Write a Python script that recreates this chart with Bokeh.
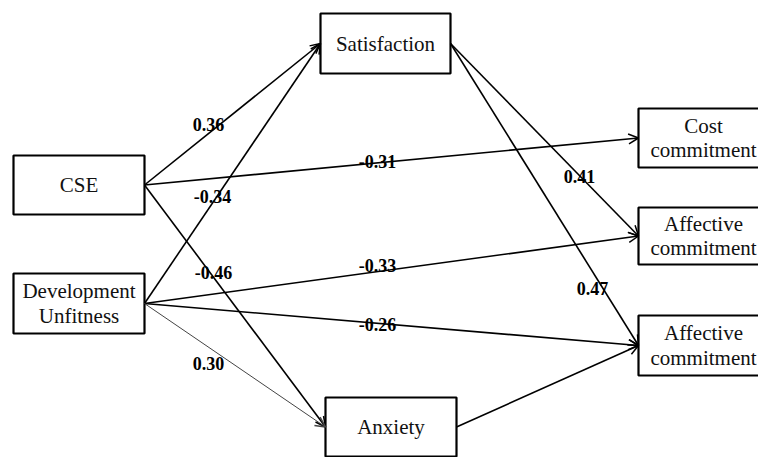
from bokeh.plotting import figure
from bokeh.models import Range1d, Arrow, OpenHead
from bokeh.core.properties import value
from bokeh.embed import file_html
from bokeh.resources import INLINE

# ---- data ----
node_ids = ["CSE", "DU", "SAT", "ANX", "COST", "AFF1", "AFF2"]
node_labels = ["CSE", "Development\nUnfitness", "Satisfaction", "Anxiety",
               "Cost\ncommitment", "Affective\ncommitment", "Affective\ncommitment"]

edge_from = ["CSE", "DU", "CSE", "CSE", "DU", "DU", "DU", "SAT", "SAT", "ANX"]
edge_to = ["SAT", "SAT", "COST", "ANX", "AFF1", "AFF2", "ANX", "AFF1", "AFF2", "AFF2"]
edge_coef = ["0.36", "-0.34", "-0.31", "-0.46", "-0.33", "-0.26", "0.30", "0.41", "0.47", ""]

# ---- layout (pixel-like coordinates, y downward) ----
node_box = {  # cx, cy, w, h
    "CSE": (78.5, 184.5, 131, 59),
    "DU": (78.5, 303, 131, 60),
    "SAT": (385, 43, 130, 60),
    "ANX": (390.5, 426.5, 131, 59),
    "COST": (703, 137.5, 130, 59),
    "AFF1": (703, 235.5, 130, 57),
    "AFF2": (703, 345, 130, 60),
}
label_pos = [(208, 124), (212, 196), (377, 161), (213, 272), (377, 265),
             (377, 324), (208, 363), (579, 176), (592, 288), (0, 0)]
thin_edges = {6}

FONT = value("'Liberation Serif', 'Times New Roman', serif")

W, H = 758, 457
p = figure(width=W, height=H, x_range=Range1d(0, W), y_range=Range1d(H, 0),
           output_backend="svg", toolbar_location=None, min_border=0,
           x_axis_location=None, y_axis_location=None)
p.grid.visible = False
p.outline_line_color = None
p.background_fill_color = "white"
p.border_fill_color = "white"

# edges
for i, (a, b) in enumerate(zip(edge_from, edge_to)):
    ax, ay, aw, ah = node_box[a]
    bx, by, bw, bh = node_box[b]
    thin = i in thin_edges
    col = "#444444" if thin else "black"
    lw = 1.0 if thin else 1.6
    p.add_layout(Arrow(x_start=ax + aw / 2, y_start=ay, x_end=bx - bw / 2, y_end=by,
                       line_color=col, line_width=lw,
                       end=OpenHead(size=10, line_color=col, line_width=1.5)))

# boxes
p.rect(x=[node_box[n][0] for n in node_ids], y=[node_box[n][1] for n in node_ids],
       width=[node_box[n][2] for n in node_ids], height=[node_box[n][3] for n in node_ids],
       fill_color="white", line_color="black", line_width=2.2)

# node texts (split into lines)
tx, ty, tt = [], [], []
for n, lab in zip(node_ids, node_labels):
    cx, cy, w, h = node_box[n]
    lines = lab.split("\n")
    k = len(lines)
    for j, ln in enumerate(lines):
        tx.append(cx)
        ty.append(cy + (j - (k - 1) / 2) * 24.5)
        tt.append(ln)
p.text(x=tx, y=ty, text=tt, text_align="center", text_baseline="middle",
       text_font=FONT, text_font_size="21px", text_color="#111111")

# coefficients
cx_, cy_, ct_ = [], [], []
for c, (x, y) in zip(edge_coef, label_pos):
    if c:
        cx_.append(x); cy_.append(y); ct_.append(c)
p.text(x=cx_, y=cy_, text=ct_, text_align="center", text_baseline="middle",
       text_font=FONT, text_font_size="18px",
       text_font_style="bold", text_color="black")

open("out.html", "w").write(file_html(p, INLINE))
